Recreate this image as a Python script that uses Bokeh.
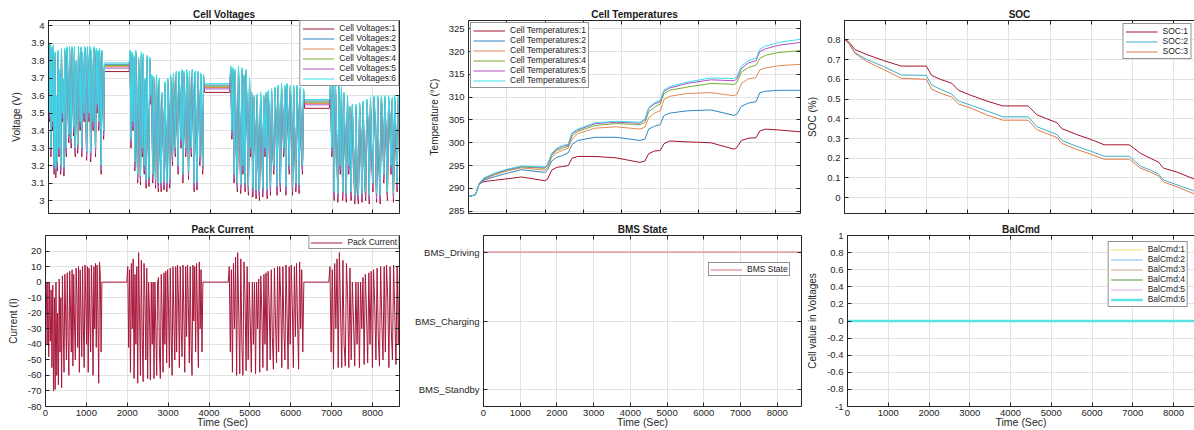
import numpy as np
from bokeh.plotting import figure
from bokeh.layouts import column, row
from bokeh.models import LinearAxis, FixedTicker, Range1d
from bokeh.embed import file_html
from bokeh.resources import INLINE

# ---------------- data ----------------
time_ticks = [0, 1000, 2000, 3000, 4000, 5000, 6000, 7000, 8000]
time_end = 8660
time_end_right = 8515

# drive segments (start, end) in seconds
drive_segments = [(0, 1380), (1990, 3850), (4470, 6320), (6930, 8660)]

current_seg1 = [0, 0, -40, 0, -48, 0, -38, -5, -55, -2, -70, -10, -69, 0, -60, -20, -66, 2, -45, -10,
                -68, 4, -30, -58, 5, -20, -50, 6, -35, -60, 7, -15, -45, 8, -54, 5, -25, -50, 9, -10,
                -42, 10, -58, 8, -20, -48, 10, -30, -55, 11, -12, -40, 10, -58, 9, -25, -45, 11, -15, -60,
                10, -30, 12, -42, 11, -20, -65, 13, 5, -45, 0]
current_seg2 = [0, 10, -42, 8, -58, 12, -30, 15, -62, 5, -40, 10, -65, 19, -20, -60, 14, -35, -64, 12,
                -10, -50, 9, -62, 0, -20, -63, 0, -40, 0, -62, 0, -30, -60, 0, 3, -45, -62, 5, -20,
                -58, 6, -40, 7, -52, 8, -15, -55, 9, -35, -60, 10, -25, -50, 10, -45, 11, -10, -55, 10,
                -30, -48, 11, -20, -58, 10, -35, 11, -15, -52, 10, -40, -60, 11, -25, 10, -45, 12, -20, -55,
                13, -30, 8, -45, 0]
current_seg3 = [0, 10, -45, 8, -58, 12, -30, 16, -60, 19, -20, -59, 15, -40, -60, 13, -10, -57, 10, -50,
                0, -25, -58, 0, -40, 0, -59, 0, -30, 2, -58, 4, -20, -55, 5, -40, 6, -57, 7, -15,
                -50, 8, -35, -56, 9, -25, -52, 10, -45, 10, -10, -55, 10, -30, -50, 11, -20, -56, 10, -40,
                11, -15, -55, 10, -35, 12, -25, -56, 13, -30, 8, -45, 0]
current_seg4 = [0, 10, -45, 8, -56, 12, -30, 15, -55, 19, -20, -55, 14, -40, -54, 12, -10, -55, 9, -50,
                0, -25, -54, 0, -40, 0, -55, 0, -30, 3, -53, 5, -20, -52, 6, -40, 7, -55, 8, -15,
                -50, 9, -35, -54, 10, -25, -50, 10, -45, 11, -10, -55, 10, -30, -50, 11, -20, -53, 10, -40, 11]

# Cell 6 (top trace) voltage per drive segment; rest plateaus join the segments
voltage_seg1 = [3.92, 3.5, 3.9, 3.3, 3.88, 3.45, 3.89, 3.2, 3.85, 3.18, 3.6, 3.22, 3.86, 3.3, 3.75, 3.2,
                3.87, 3.5, 3.7, 3.19, 3.87, 3.6, 3.3, 3.88, 3.65, 3.38, 3.88, 3.55, 3.35, 3.88, 3.7, 3.42,
                3.88, 3.3, 3.8, 3.6, 3.32, 3.88, 3.72, 3.45, 3.88, 3.3, 3.85, 3.62, 3.5, 3.88, 3.6, 3.28,
                3.88, 3.75, 3.5, 3.88, 3.27, 3.86, 3.6, 3.45, 3.88, 3.7, 3.3, 3.87, 3.55, 3.86, 3.45, 3.87,
                3.65, 3.2, 3.86, 3.75, 3.4, 3.787]
voltage_seg2 = [3.787, 3.86, 3.35, 3.85, 3.45, 3.83, 3.22, 3.86, 3.5, 3.15, 3.82, 3.6, 3.14, 3.85, 3.3, 3.84,
                3.2, 3.7, 3.12, 3.83, 3.4, 3.13, 3.82, 3.6, 3.72, 3.15, 3.71, 3.5, 3.12, 3.72, 3.4, 3.1,
                3.7, 3.3, 3.1, 3.62, 3.45, 3.11, 3.68, 3.35, 3.1, 3.7, 3.55, 3.12, 3.72, 3.4, 3.25, 3.73,
                3.55, 3.3, 3.74, 3.45, 3.2, 3.74, 3.6, 3.35, 3.75, 3.15, 3.74, 3.5, 3.3, 3.75, 3.6, 3.17,
                3.74, 3.45, 3.3, 3.75, 3.55, 3.1, 3.74, 3.4, 3.11, 3.74, 3.6, 3.25, 3.73, 3.5, 3.2, 3.72, 3.668]
voltage_seg3 = [3.668, 3.77, 3.4, 3.76, 3.15, 3.75, 3.3, 3.1, 3.77, 3.5, 3.09, 3.76, 3.2, 3.72, 3.1, 3.75,
                3.45, 3.08, 3.7, 3.3, 3.62, 3.07, 3.6, 3.4, 3.06, 3.61, 3.2, 3.05, 3.62, 3.45, 3.07, 3.6,
                3.3, 3.62, 3.06, 3.63, 3.5, 3.08, 3.64, 3.35, 3.2, 3.65, 3.5, 3.08, 3.66, 3.4, 3.1, 3.67,
                3.55, 3.3, 3.66, 3.08, 3.67, 3.45, 3.2, 3.66, 3.55, 3.08, 3.66, 3.4, 3.1, 3.66, 3.5, 3.09,
                3.65, 3.35, 3.2, 3.64, 3.577]
voltage_seg4 = [3.577, 3.68, 3.3, 3.67, 3.05, 3.68, 3.4, 3.04, 3.66, 3.2, 3.65, 3.05, 3.62, 3.35, 3.04, 3.6,
                3.2, 3.54, 3.05, 3.55, 3.3, 3.03, 3.55, 3.1, 3.03, 3.56, 3.4, 3.04, 3.57, 3.2, 3.05, 3.58,
                3.45, 3.03, 3.59, 3.3, 3.1, 3.6, 3.45, 3.04, 3.6, 3.25, 3.03, 3.6, 3.5, 3.15, 3.6, 3.35,
                3.05, 3.6, 3.5, 3.2, 3.59, 3.04, 3.6, 3.4, 3.1, 3.6, 3.5]
# per-cell offsets relative to cell 6, read from the rest plateaus
cell_voltage_offsets = [-0.05, -0.008, -0.022, -0.015, -0.03, 0.0]
cell_voltage_names = ["Cell Voltages:1", "Cell Voltages:2", "Cell Voltages:3",
                      "Cell Voltages:4", "Cell Voltages:5", "Cell Voltages:6"]

temp_time = [0, 180, 280, 400, 700, 1000, 1380, 1990, 2060, 2170, 2300, 2450, 2600, 2700, 2850, 3300, 3850,
             4470, 4600, 4700, 4850, 5000, 5100, 5250, 5700, 6320, 6930, 7000, 7120, 7300, 7500, 7600, 7750,
             8100, 8660]
temp_cell1 = [288.2, 288.6, 291.0, 291.5, 291.8, 292.1, 292.5, 291.7, 292.0, 294.0, 294.6, 294.8, 295.0, 296.6,
              297.0, 297.0, 296.7, 295.7, 296.0, 297.6, 298.2, 298.3, 299.8, 300.4, 300.2, 300.0, 298.6, 299.0,
              300.5, 301.0, 301.1, 302.6, 303.0, 302.8, 302.4]
temp_cell2 = [288.2, 288.6, 291.0, 291.8, 292.6, 293.3, 294.1, 293.5, 294.0, 296.0, 296.8, 297.2, 297.8, 299.6,
              300.5, 301.2, 301.2, 300.5, 300.8, 303.0, 303.6, 304.0, 306.0, 306.5, 307.0, 307.2, 306.0, 306.3,
              308.0, 308.7, 309.0, 311.0, 311.3, 311.5, 311.5]
temp_cell3 = [288.2, 288.6, 291.0, 292.0, 293.0, 293.8, 294.5, 294.0, 294.5, 296.8, 297.8, 298.3, 298.8, 300.8,
              302.0, 303.2, 303.5, 303.0, 303.4, 305.5, 306.5, 307.0, 309.5, 310.2, 310.8, 311.0, 310.3, 310.6,
              313.0, 314.0, 314.3, 316.0, 316.4, 316.9, 317.2]
temp_cell4 = [288.2, 288.6, 291.1, 292.1, 293.2, 294.0, 294.7, 294.4, 295.0, 297.2, 298.3, 298.8, 299.2, 301.5,
              302.5, 303.8, 304.2, 304.0, 304.4, 306.8, 307.8, 308.5, 310.8, 311.5, 312.2, 313.0, 312.8, 313.2,
              315.5, 316.5, 317.0, 318.5, 319.2, 319.8, 320.2]
temp_cell5 = [288.2, 288.6, 291.1, 292.2, 293.3, 294.1, 294.8, 294.6, 295.2, 297.5, 298.6, 299.2, 299.5, 302.0,
              302.8, 304.2, 304.5, 304.3, 305.0, 307.5, 308.5, 309.0, 311.3, 312.0, 313.0, 313.8, 313.6, 314.0,
              316.3, 317.5, 318.0, 320.0, 320.6, 321.4, 322.0]
temp_cell6 = [288.2, 288.6, 291.1, 292.3, 293.4, 294.2, 294.9, 294.7, 295.3, 297.7, 298.8, 299.4, 299.7, 302.2,
              303.0, 304.4, 304.7, 304.5, 305.2, 307.7, 308.8, 309.3, 311.6, 312.3, 313.3, 314.2, 314.1, 314.5,
              316.8, 318.0, 318.5, 320.5, 321.2, 322.0, 322.7]
temp_names = ["Cell Temperatures:1", "Cell Temperatures:2", "Cell Temperatures:3",
              "Cell Temperatures:4", "Cell Temperatures:5", "Cell Temperatures:6"]

soc_time = [0, 100, 260, 545, 950, 1380, 1990, 2120, 2330, 2610, 2770, 3060, 3460, 3850, 4470, 4680, 4920,
            5170, 5290, 5650, 6000, 6320, 6930, 7200, 7440, 7640, 7760, 8090, 8500, 8660]
soc_1 = [0.805, 0.79, 0.75, 0.725, 0.695, 0.667, 0.667, 0.62, 0.60, 0.58, 0.545, 0.52, 0.49, 0.465, 0.465,
         0.42, 0.40, 0.38, 0.35, 0.32, 0.295, 0.268, 0.268, 0.225, 0.20, 0.18, 0.15, 0.13, 0.095, 0.085]
soc_2 = [0.80, 0.785, 0.735, 0.70, 0.665, 0.622, 0.62, 0.57, 0.55, 0.525, 0.49, 0.47, 0.44, 0.41, 0.41,
         0.36, 0.34, 0.32, 0.29, 0.26, 0.235, 0.21, 0.21, 0.16, 0.14, 0.12, 0.09, 0.065, 0.035, 0.025]
soc_3 = [0.80, 0.783, 0.73, 0.69, 0.65, 0.605, 0.60, 0.55, 0.53, 0.51, 0.475, 0.455, 0.42, 0.393, 0.393,
         0.345, 0.325, 0.305, 0.275, 0.245, 0.22, 0.195, 0.195, 0.15, 0.13, 0.11, 0.08, 0.055, 0.02, 0.01]
soc_names = ["SOC:1", "SOC:2", "SOC:3"]

bms_time = [0, 8660]
bms_state = [2, 2]
bms_ticks = [0, 1, 2]
bms_tick_labels = ["BMS_Standby", "BMS_Charging", "BMS_Driving"]

balcmd_time = [0, 8660]
balcmd_values = [[0, 0], [0, 0], [0, 0], [0, 0], [0, 0], [0, 0]]
balcmd_names = ["BalCmd:1", "BalCmd:2", "BalCmd:3", "BalCmd:4", "BalCmd:5", "BalCmd:6"]

volt_ticks = [3.0, 3.1, 3.2, 3.3, 3.4, 3.5, 3.6, 3.7, 3.8, 3.9, 4.0]
volt_tick_labels = ["3", "3.1", "3.2", "3.3", "3.4", "3.5", "3.6", "3.7", "3.8", "3.9", "4"]
temp_ticks = [285, 290, 295, 300, 305, 310, 315, 320, 325]
temp_tick_labels = ["285", "290", "295", "300", "305", "310", "315", "320", "325"]
soc_ticks = [0.0, 0.1, 0.2, 0.3, 0.4, 0.5, 0.6, 0.7, 0.8]
soc_tick_labels = ["0", "0.1", "0.2", "0.3", "0.4", "0.5", "0.6", "0.7", "0.8"]
cur_ticks = [-80, -70, -60, -50, -40, -30, -20, -10, 0, 10, 20]
cur_tick_labels = ["-80", "-70", "-60", "-50", "-40", "-30", "-20", "-10", "0", "10", "20"]
bal_ticks = [-1.0, -0.8, -0.6, -0.4, -0.2, 0.0, 0.2, 0.4, 0.6, 0.8, 1.0]
bal_tick_labels = ["-1", "-0.8", "-0.6", "-0.4", "-0.2", "0", "0.2", "0.4", "0.6", "0.8", "1"]

# ---------------- styling ----------------
FONT = "Liberation Sans"
BOX = "#262626"
GRID = "#E2E2E2"
cell_colors = ["#A2142F", "#2F86C4", "#E08A55", "#77AC30", "#B24FC2", "#3ADCEA"]
soc_colors = ["#A2142F", "#3AAFC8", "#E07A4A"]
bal_colors = ["#EEE070", "#7DB8E8", "#C8A088", "#4E9A3A", "#DDA6DD", "#5BE3E3"]
current_color = "#A8173A"
bms_color = "#D9707F"


def hide_labels(ax):
    ax.major_label_text_font_size = "0px"
    ax.major_label_standoff = 0
    ax.axis_label = None


def style_axis(ax):
    ax.axis_line_color = BOX
    ax.axis_line_width = 1
    ax.major_tick_in = 4
    ax.major_tick_out = 0
    ax.major_tick_line_color = BOX
    ax.minor_tick_line_color = None
    ax.major_label_text_font = FONT
    ax.major_label_text_font_size = "9.5px"
    ax.major_label_text_color = "#262626"
    ax.major_label_standoff = 4
    ax.axis_label_text_font = FONT
    ax.axis_label_text_font_style = "normal"
    ax.axis_label_text_font_size = "10px"
    ax.axis_label_text_color = "#262626"


def panel(title, width, height, x_end, y_rng, bl, br, bt, bb, yticks, ylabels,
          show_x, ylabel=None, right_axis=True):
    p = figure(width=width, height=height, x_range=Range1d(0, x_end),
               y_range=Range1d(y_rng[0], y_rng[1]), output_backend="svg",
               toolbar_location=None, title=title,
               min_border_left=bl, min_border_right=br, min_border_top=bt, min_border_bottom=bb)
    p.outline_line_color = None
    p.background_fill_color = "white"
    p.border_fill_color = "white"
    p.title.align = "center"
    p.title.text_font = FONT
    p.title.text_font_size = "10px"
    p.title.text_font_style = "bold"
    p.title.text_color = "#1a1a1a"
    p.title.standoff = 1
    xt = FixedTicker(ticks=time_ticks)
    yt = FixedTicker(ticks=yticks)
    for ax in p.xaxis:
        ax.ticker = xt
        style_axis(ax)
        if show_x:
            ax.axis_label = "Time (Sec)"
            ax.major_label_standoff = 3
            ax.axis_label_standoff = -3
            ax.axis_label_text_font_size = "10.5px"
        else:
            hide_labels(ax)
    for ax in p.yaxis:
        ax.ticker = yt
        style_axis(ax)
        ax.major_label_overrides = {v: s for v, s in zip(yticks, ylabels)}
        ax.axis_label_standoff = 6
        if ylabel:
            ax.axis_label = ylabel
    p.xgrid.ticker = xt
    p.ygrid.ticker = yt
    for g in (p.xgrid[0], p.ygrid[0]):
        g.grid_line_color = GRID
        g.grid_line_width = 1
    top = LinearAxis(ticker=xt)
    style_axis(top)
    hide_labels(top)
    p.add_layout(top, "above")
    if right_axis:
        rax = LinearAxis(ticker=yt)
        style_axis(rax)
        hide_labels(rax)
        p.add_layout(rax, "right")
    return p


def style_legend(p, loc, margin):
    lg = p.legend[0]
    lg.location = loc
    lg.margin = margin
    lg.padding = 2
    lg.spacing = 0
    lg.label_height = 9
    lg.glyph_height = 9
    lg.glyph_width = 32
    lg.label_standoff = 5
    lg.label_text_font = FONT
    lg.label_text_font_size = "8.5px"
    lg.label_text_color = "#1a1a1a"
    lg.border_line_color = BOX
    lg.border_line_width = 1
    lg.background_fill_color = "white"
    lg.background_fill_alpha = 1


def seg_series(segments):
    xs, ys = [], []
    for (start, end), vals in zip(drive_segments, segments):
        xs.extend(np.linspace(start, end, len(vals)).tolist())
        ys.extend(vals)
    return np.array(xs), np.array(ys)


# ---------------- top row ----------------
TOP_H = 215
BOT_H = 215

p1 = panel("Cell Voltages", 400, TOP_H, time_end, (2.926, 4.029), 48, 1, 20, 2,
           volt_ticks, volt_tick_labels, False, "Voltage (V)")
vt, v6 = seg_series([voltage_seg1, voltage_seg2, voltage_seg3, voltage_seg4])
for i in range(6):
    p1.line(vt, v6 + cell_voltage_offsets[i], line_color=cell_colors[i], line_width=1,
            legend_label=cell_voltage_names[i])
style_legend(p1, "top_right", 0)

p2 = panel("Cell Temperatures", 404, TOP_H, time_end, (284.5, 326.8), 68, 4, 20, 2,
           temp_ticks, temp_tick_labels, False, "Temperature (°C)")
for i, ser in enumerate([temp_cell1, temp_cell2, temp_cell3, temp_cell4, temp_cell5, temp_cell6]):
    p2.line(temp_time, ser, line_color=cell_colors[i], line_width=1, legend_label=temp_names[i])
style_legend(p2, "top_left", 2)

p3 = panel("SOC", 390, TOP_H, time_end_right, (-0.08, 0.898), 40, 0, 20, 2,
           soc_ticks, soc_tick_labels, False, "SOC (%)", right_axis=False)
for i, ser in enumerate([soc_1, soc_2, soc_3]):
    p3.line(soc_time, ser, line_color=soc_colors[i], line_width=1, legend_label=soc_names[i])
style_legend(p3, "top_right", 3)

# ---------------- bottom row ----------------
p4 = panel("Pack Current", 400, BOT_H, time_end, (-80, 30), 45, 1, 20, 23,
           cur_ticks, cur_tick_labels, True, "Current (I)")
ct, cv = seg_series([current_seg1, current_seg2, current_seg3, current_seg4])
p4.line(ct, cv, line_color=current_color, line_width=1, legend_label="Pack Current")
style_legend(p4, "top_right", 0)
p4.legend[0].padding = 1

p5 = panel("BMS State", 404, BOT_H, time_end, (-0.24, 2.24), 83, 3, 20, 23,
           bms_ticks, bms_tick_labels, True, None)
p5.line(bms_time, bms_state, line_color=bms_color, line_width=1, legend_label="BMS State")
style_legend(p5, (225, 130), 0)
p5.legend[0].padding = 1

p6 = panel("BalCmd", 390, BOT_H, time_end_right, (-1, 1), 43, 0, 20, 23,
           bal_ticks, bal_tick_labels, True, "Cell value in Voltages", right_axis=False)
for i in range(6):
    p6.line(balcmd_time, balcmd_values[i], line_color=bal_colors[i],
            line_width=2.5 if i == 5 else 1, legend_label=balcmd_names[i])
style_legend(p6, "top_right", 6)

layout = column(row(p1, p2, p3, spacing=0), row(p4, p5, p6, spacing=0), spacing=0)

open("out.html", "w").write(file_html(layout, INLINE))
